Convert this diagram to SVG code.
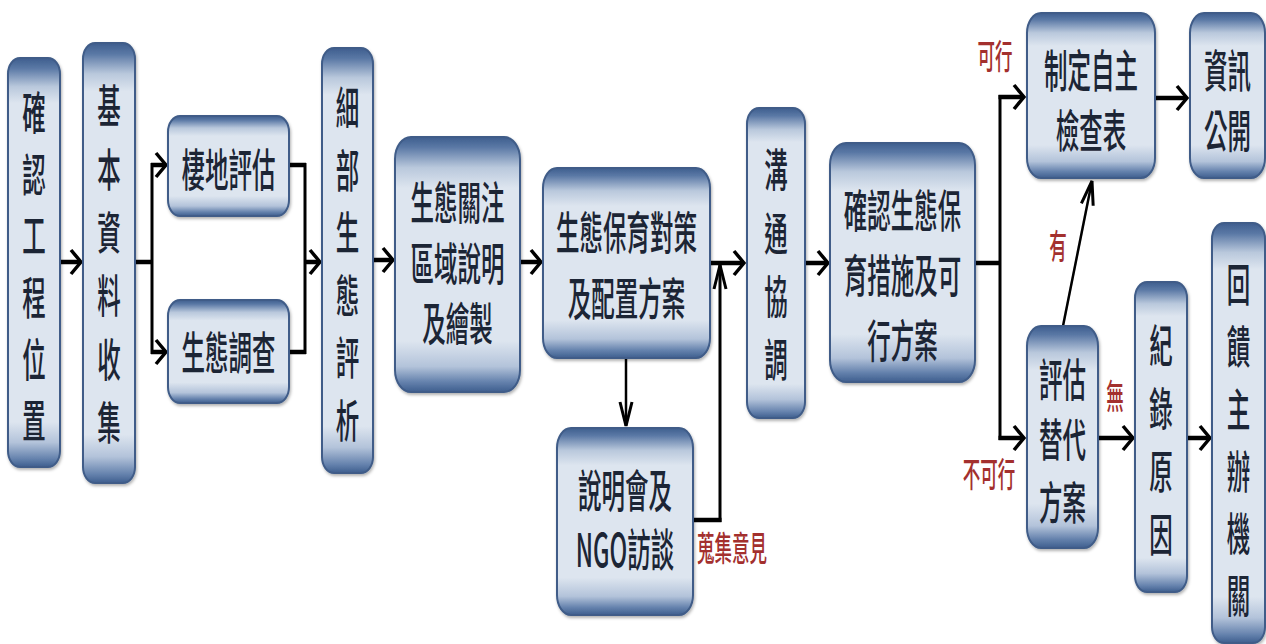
<svg xmlns="http://www.w3.org/2000/svg" width="1266" height="644" viewBox="0 0 1266 644">
<style>
.box{stroke:#3f5c88;stroke-width:2;filter:url(#sh)}
.tall{fill:url(#gt)}
.short{fill:url(#gs)}
.t{font-family:"Noto Sans CJK TC","Noto Sans CJK SC",sans-serif;font-size:23.5px;font-weight:500;fill:#1c2535;text-anchor:middle;dominant-baseline:central}
.l{font-family:"Noto Sans CJK TC","Noto Sans CJK SC",sans-serif;font-size:17.5px;font-weight:500;fill:#a3302e;text-anchor:middle;dominant-baseline:central}
.h{stroke:#000;stroke-width:4.5;fill:none}
.v{stroke:#000;stroke-width:3;fill:none}
.thin{stroke:#000;stroke-width:2.5;fill:none}
</style>
<defs>
<linearGradient id="gs" x1="0" y1="0" x2="0" y2="1">
<stop offset="0" stop-color="#3e5e8e"/>
<stop offset="0.04" stop-color="#5a78a5"/>
<stop offset="0.12" stop-color="#b9c8dc"/>
<stop offset="0.2" stop-color="#dde5ef"/>
<stop offset="0.8" stop-color="#dde5ef"/>
<stop offset="0.9" stop-color="#b3c3da"/>
<stop offset="0.96" stop-color="#6582ad"/>
<stop offset="1" stop-color="#3e5e8e"/>
</linearGradient>
<linearGradient id="gt" x1="0" y1="0" x2="0" y2="1">
<stop offset="0" stop-color="#3e5e8e"/>
<stop offset="0.025" stop-color="#5a78a5"/>
<stop offset="0.07" stop-color="#b9c8dc"/>
<stop offset="0.11" stop-color="#dde5ef"/>
<stop offset="0.89" stop-color="#dde5ef"/>
<stop offset="0.94" stop-color="#b3c3da"/>
<stop offset="0.98" stop-color="#6582ad"/>
<stop offset="1" stop-color="#3e5e8e"/>
</linearGradient>
<filter id="sh" x="-20%" y="-10%" width="140%" height="125%">
<feDropShadow dx="1" dy="2" stdDeviation="1.5" flood-color="#000" flood-opacity="0.3"/>
</filter>
<marker id="ah" viewBox="0 0 14 28" markerWidth="14" markerHeight="28" refX="12" refY="14" orient="auto" markerUnits="userSpaceOnUse">
<path d="M2,2 L12,14 L2,26" fill="none" stroke="#000" stroke-width="3.5"/>
</marker>
<marker id="av" viewBox="0 0 28 16" markerWidth="28" markerHeight="16" refX="26" refY="8" orient="auto" markerUnits="userSpaceOnUse">
<path d="M2,2 L26,8 L2,14" fill="none" stroke="#000" stroke-width="3"/>
</marker>
</defs>
<rect width="1266" height="644" fill="#fff"/>

<g id="connectors">
<line class="h" x1="60" y1="262" x2="81" y2="262" marker-end="url(#ah)"/>
<line class="h" x1="135" y1="262" x2="152" y2="262"/>
<line class="v" x1="152" y1="163" x2="152" y2="354"/>
<line class="h" x1="151" y1="165" x2="166" y2="165" marker-end="url(#ah)"/>
<line class="h" x1="151" y1="352" x2="166" y2="352" marker-end="url(#ah)"/>
<line class="h" x1="289" y1="165" x2="306" y2="165"/>
<line class="h" x1="289" y1="352" x2="306" y2="352"/>
<line class="v" x1="305" y1="163" x2="305" y2="354"/>
<line class="h" x1="305" y1="262" x2="320" y2="262" marker-end="url(#ah)"/>
<line class="h" x1="373" y1="260" x2="393" y2="260" marker-end="url(#ah)"/>
<line class="h" x1="520" y1="262" x2="541" y2="262" marker-end="url(#ah)"/>
<line class="h" x1="710" y1="263" x2="744" y2="263" marker-end="url(#ah)"/>
<line class="thin" x1="626" y1="358" x2="626" y2="426" marker-end="url(#av)"/>
<line class="h" x1="693" y1="520" x2="721.5" y2="520"/>
<line class="v" x1="720" y1="522" x2="720" y2="265" marker-end="url(#av)"/>
<line class="h" x1="805" y1="263" x2="828" y2="263" marker-end="url(#ah)"/>
<line class="h" x1="975" y1="263" x2="1000" y2="263"/>
<line class="v" x1="1000" y1="95" x2="1000" y2="440"/>
<line class="h" x1="998.5" y1="97" x2="1024" y2="97" marker-end="url(#ah)"/>
<line class="h" x1="998.5" y1="438" x2="1024" y2="438" marker-end="url(#ah)"/>
<line class="h" x1="1155" y1="98" x2="1187" y2="98" marker-end="url(#ah)"/>
<line class="thin" x1="1063" y1="326" x2="1092" y2="181" marker-end="url(#av)"/>
<line class="h" x1="1098" y1="438" x2="1133" y2="438" marker-end="url(#ah)"/>
<line class="h" x1="1187" y1="438" x2="1210" y2="438" marker-end="url(#ah)"/>
<text class="l" transform="translate(995,55) scale(1,1.95)">可行</text>
<text class="l" transform="translate(989,473) scale(1,1.95)">不可行</text>
<text class="l" transform="translate(1058,245) scale(1,1.95)">有</text>
<text class="l" transform="translate(1115,395) scale(1,1.95)">無</text>
<text class="l" transform="translate(732,547) scale(1,1.95)">蒐集意見</text>
</g>

<g id="n1">
<rect class="box tall" x="8" y="58" width="52" height="409" rx="12" ry="16"/>
<text class="t" transform="translate(34,110) scale(1,1.95)"><tspan x="0" y="0">確</tspan><tspan x="0" dy="31.6">認</tspan><tspan x="0" dy="31.6">工</tspan><tspan x="0" dy="31.6">程</tspan><tspan x="0" dy="31.6">位</tspan><tspan x="0" dy="31.6">置</tspan></text>
</g>
<g id="n2">
<rect class="box tall" x="83" y="43" width="52" height="440" rx="12" ry="16"/>
<text class="t" transform="translate(109,103) scale(1,1.95)"><tspan x="0" y="0">基</tspan><tspan x="0" dy="32.5">本</tspan><tspan x="0" dy="32.5">資</tspan><tspan x="0" dy="32.5">料</tspan><tspan x="0" dy="32.5">收</tspan><tspan x="0" dy="32.5">集</tspan></text>
</g>
<g id="n3">
<rect class="box short" x="168" y="116" width="121" height="100" rx="12" ry="16"/>
<text class="t" transform="translate(228.5,167) scale(1,1.95)">棲地評估</text>
</g>
<g id="n4">
<rect class="box short" x="168" y="300" width="121" height="103" rx="12" ry="16"/>
<text class="t" transform="translate(228.5,350) scale(1,1.95)">生態調查</text>
</g>
<g id="n5">
<rect class="box tall" x="322" y="48" width="51" height="425" rx="12" ry="16"/>
<text class="t" transform="translate(347.5,105) scale(1,1.95)"><tspan x="0" y="0">細</tspan><tspan x="0" dy="32.1">部</tspan><tspan x="0" dy="32.1">生</tspan><tspan x="0" dy="32.1">態</tspan><tspan x="0" dy="32.1">評</tspan><tspan x="0" dy="32.1">析</tspan></text>
</g>
<g id="n6">
<rect class="box short" x="395" y="137" width="125" height="255" rx="16" ry="22"/>
<text class="t" transform="translate(457.5,200) scale(1,1.95)"><tspan x="0" y="0">生態關注</tspan><tspan x="0" dy="31">區域說明</tspan><tspan x="0" dy="31">及繪製</tspan></text>
</g>
<g id="n7">
<rect class="box short" x="543" y="168" width="167" height="190" rx="14" ry="20"/>
<text class="t" transform="translate(626.5,230) scale(1,1.95)"><tspan x="0" y="0">生態保育對策</tspan><tspan x="0" dy="33.8">及配置方案</tspan></text>
</g>
<g id="n8">
<rect class="box short" x="557" y="428" width="136" height="187" rx="14" ry="20"/>
<text class="t" transform="translate(625,488) scale(1,1.95)"><tspan x="0" y="0">說明會及</tspan><tspan x="0" dy="30.3">NGO訪談</tspan></text>
</g>
<g id="n9">
<rect class="box tall" x="747" y="108" width="58" height="310" rx="12" ry="16"/>
<text class="t" transform="translate(776,167) scale(1,1.95)"><tspan x="0" y="0">溝</tspan><tspan x="0" dy="32.5">通</tspan><tspan x="0" dy="32.5">協</tspan><tspan x="0" dy="32.5">調</tspan></text>
</g>
<g id="n10">
<rect class="box short" x="830" y="143" width="145" height="239" rx="16" ry="22"/>
<text class="t" transform="translate(902.5,208) scale(1,1.95)"><tspan x="0" y="0">確認生態保</tspan><tspan x="0" dy="33.3">育措施及可</tspan><tspan x="0" dy="33.3">行方案</tspan></text>
</g>
<g id="n11">
<rect class="box short" x="1027" y="13" width="128" height="165" rx="14" ry="20"/>
<text class="t" transform="translate(1091,68) scale(1,1.95)"><tspan x="0" y="0">制定自主</tspan><tspan x="0" dy="30.8">檢查表</tspan></text>
</g>
<g id="n12">
<rect class="box short" x="1190" y="13" width="75" height="165" rx="14" ry="20"/>
<text class="t" transform="translate(1227.5,68) scale(1,1.95)"><tspan x="0" y="0">資訊</tspan><tspan x="0" dy="30.8">公開</tspan></text>
</g>
<g id="n13">
<rect class="box short" x="1027" y="326" width="71" height="222" rx="14" ry="20"/>
<text class="t" transform="translate(1062.5,377) scale(1,1.95)"><tspan x="0" y="0">評估</tspan><tspan x="0" dy="30.8">替代</tspan><tspan x="0" dy="32.3">方案</tspan></text>
</g>
<g id="n14">
<rect class="box tall" x="1135" y="282" width="52" height="310" rx="12" ry="16"/>
<text class="t" transform="translate(1161,343) scale(1,1.95)"><tspan x="0" y="0">紀</tspan><tspan x="0" dy="32.3">錄</tspan><tspan x="0" dy="32.3">原</tspan><tspan x="0" dy="32.3">因</tspan></text>
</g>
<g id="n15">
<rect class="box tall" x="1212" y="223" width="53" height="420" rx="12" ry="16"/>
<text class="t" transform="translate(1238.5,282) scale(1,1.95)"><tspan x="0" y="0">回</tspan><tspan x="0" dy="31.9">饋</tspan><tspan x="0" dy="31.9">主</tspan><tspan x="0" dy="31.9">辦</tspan><tspan x="0" dy="31.9">機</tspan><tspan x="0" dy="31.9">關</tspan></text>
</g>
</svg>
